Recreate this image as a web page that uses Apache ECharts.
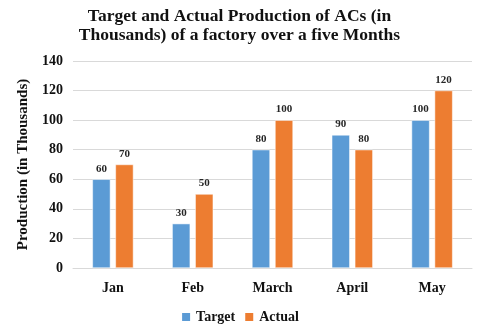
<!DOCTYPE html>
<html><head><meta charset="utf-8">
<script src="https://cdn.jsdelivr.net/npm/echarts@6/dist/echarts.min.js"></script>
<style>html,body{margin:0;padding:0;background:#fff}#c{width:479px;height:330px}</style>
</head><body><div id="c"></div>
<script>
var categories = ['Jan', 'Feb', 'March', 'April', 'May'];
var targetValues = [60, 30, 80, 90, 100];
var actualValues = [70, 50, 100, 80, 120];
var yTicks = [0, 20, 40, 60, 80, 100, 120, 140];

var F = '"Liberation Serif", "Times New Roman", serif';
var chart = echarts.init(document.getElementById('c'));
var labelCfg = {show: true, position: 'top', distance: 5, fontFamily: F, fontWeight: 'bold', fontSize: 11, color: '#262626'};
chart.setOption({
  animation: false,
  title: {
    text: 'Target and Actual Production of ACs (in\nThousands) of a factory over a five Months',
    left: 'center', top: 2,
    textStyle: {fontFamily: F, fontWeight: 'bold', fontSize: 17.5, color: '#111', lineHeight: 19}
  },
  legend: {
    bottom: 1, left: 'center', itemWidth: 10, itemHeight: 10, itemGap: 8,
    icon: 'rect',
    textStyle: {fontFamily: F, fontWeight: 'bold', fontSize: 14, color: '#111'},
    data: ['Target', 'Actual']
  },
  grid: {left: 73, right: 7, top: 61, bottom: 62},
  xAxis: {
    type: 'category', data: categories,
    axisLine: {lineStyle: {color: '#d9d9d9'}},
    axisTick: {show: false},
    axisLabel: {fontFamily: F, fontWeight: 'bold', fontSize: 14, color: '#111', margin: 13}
  },
  yAxis: {
    type: 'value', min: yTicks[0], max: yTicks[yTicks.length - 1], interval: 20,
    name: 'Production (in Thousands)', nameLocation: 'middle', nameGap: 41,
    nameTextStyle: {fontFamily: F, fontWeight: 'bold', fontSize: 15, color: '#111'},
    axisLine: {show: false}, axisTick: {show: false},
    axisLabel: {fontFamily: F, fontWeight: 'bold', fontSize: 14, color: '#111', margin: 10},
    splitLine: {lineStyle: {color: '#d9d9d9'}}
  },
  series: [
    {name: 'Target', type: 'bar', data: targetValues, barWidth: 18, barGap: '28%',
     itemStyle: {color: '#5B9BD5', borderColor: '#fff', borderWidth: 0.5}, label: labelCfg},
    {name: 'Actual', type: 'bar', data: actualValues, barWidth: 18,
     itemStyle: {color: '#ED7D31', borderColor: '#fff', borderWidth: 0.5}, label: labelCfg}
  ]
});
</script></body></html>
